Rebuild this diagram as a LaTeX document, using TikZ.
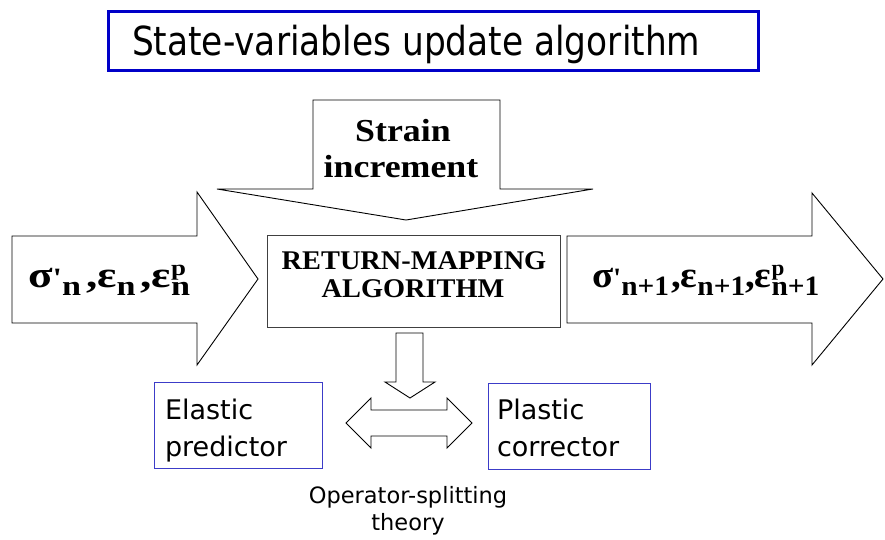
\documentclass[tikz,border=0pt]{standalone}
\usepackage{fontspec}
\newfontfamily\tah{DejaVu Sans}
\newfontfamily\tahc{DejaVu Sans}[FakeStretch=0.86]
\newfontfamily\serb{Liberation Serif}[FakeStretch=1.05]
\newfontfamily\serc{Liberation Serif}[FakeStretch=1.12]
\newfontfamily\grk{Liberation Serif}[FakeStretch=1.22]
\newfontfamily\grkr{Liberation Serif}[FakeStretch=1.05]
\definecolor{titleblue}{RGB}{0,0,200}
\definecolor{boxblue}{RGB}{60,60,200}
\definecolor{darkline}{RGB}{64,64,64}
\newcommand\gbig{\fontsize{37}{37}\selectfont}
\newcommand\gsmall{\fontsize{28}{28}\selectfont}
\newcommand\gtiny{\fontsize{22}{22}\selectfont}
\newcommand\lowpart[1]{\raisebox{-8pt}{\gsmall #1}}
\newcommand\highpart[1]{\raisebox{12pt}{\gtiny #1}}
\begin{document}
\begin{tikzpicture}[x=1pt,y=-1pt,
  blk/.style={draw=black, line width=0.9pt, fill=white, line join=miter},
  txt/.style={inner sep=0pt, outer sep=0pt, anchor=base west},
  ctxt/.style={inner sep=0pt, outer sep=0pt, anchor=base},
  bluebox/.style={draw=boxblue, line width=1pt, inner sep=0pt, anchor=north west},
  titlebox/.style={draw=titleblue, line width=3pt, inner sep=0pt, anchor=north west},
  grayBox/.style={draw=darkline, line width=1.3pt, inner sep=0pt, anchor=north west}]
\useasboundingbox (0,0) rectangle (885,540);
% title
\node[titlebox, minimum width=650pt, minimum height=59pt] (tbox) at (107,10) {};
\node[txt] (ttext) at (132,56) {\tahc\fontsize{40}{44}\selectfont State-variables update algorithm};
% strain increment arrow
\draw[blk] (313,100) -- (500,100) -- (500,189) -- (593,189) -- (406,220) -- (217,189) -- (313,189) -- cycle;
\node[ctxt] (strain1) at (403,142) {\serc\bfseries\fontsize{32}{32}\selectfont Strain};
\node[ctxt] (strain2) at (401,177) {\serc\bfseries\fontsize{32}{32}\selectfont increment};
% left arrow
\draw[blk] (12,236) -- (197,236) -- (197,192) -- (258,279) -- (197,365) -- (197,323) -- (12,323) -- cycle;
\node[txt] (lefttext) at (28,287) {\grk\bfseries{\gbig σ}{\gsmall '}\lowpart{n}\kern5pt{\gbig ,ε}\lowpart{n}\kern5pt{\gbig ,ε}\rlap{\highpart{p}}\lowpart{n}};
% right arrow
\draw[blk] (567,236) -- (812,236) -- (812,193) -- (883,279) -- (812,365) -- (812,323) -- (567,323) -- cycle;
\node[txt] (righttext) at (592,287) {\grkr\bfseries{\gbig σ}{\gsmall '}\lowpart{n+1}\kern2pt{\gbig ,ε}\lowpart{n+1}{\gbig ,ε}\rlap{\highpart{p}}\lowpart{n+1}};
% return mapping box
\node[grayBox, minimum width=293pt, minimum height=92pt] (rmbox) at (267,235) {};
\node[ctxt] (rm1) at (414,269) {\serb\bfseries\fontsize{27}{27}\selectfont RETURN-MAPPING};
\node[ctxt] (rm2) at (413,297) {\serb\bfseries\fontsize{27}{27}\selectfont ALGORITHM};
% small down arrow
\draw[blk] (396,333) -- (423,333) -- (423,382) -- (435,382) -- (410,398) -- (385,382) -- (396,382) -- cycle;
% double arrow
\draw[blk] (346,423) -- (371,398) -- (371,410) -- (447,410) -- (447,398) -- (472,423) -- (447,448) -- (447,436) -- (371,436) -- (371,448) -- cycle;
% elastic / plastic boxes
\node[bluebox, minimum width=168pt, minimum height=86pt] (ebox) at (154,382) {};
\node[txt] (e1) at (165,419) {\tah\fontsize{27}{27}\selectfont Elastic};
\node[txt] (e2) at (165,456) {\tah\fontsize{27}{27}\selectfont predictor};
\node[bluebox, minimum width=162pt, minimum height=86pt] (pbox) at (488,383) {};
\node[txt] (p1) at (497,419) {\tah\fontsize{27}{27}\selectfont Plastic};
\node[txt] (p2) at (497,456) {\tah\fontsize{27}{27}\selectfont corrector};
% operator splitting
\node[ctxt] (op1) at (408,503) {\tah\fontsize{22.5}{22.5}\selectfont Operator-splitting};
\node[ctxt] (op2) at (408,530) {\tah\fontsize{22.5}{22.5}\selectfont theory};
\end{tikzpicture}
\end{document}
